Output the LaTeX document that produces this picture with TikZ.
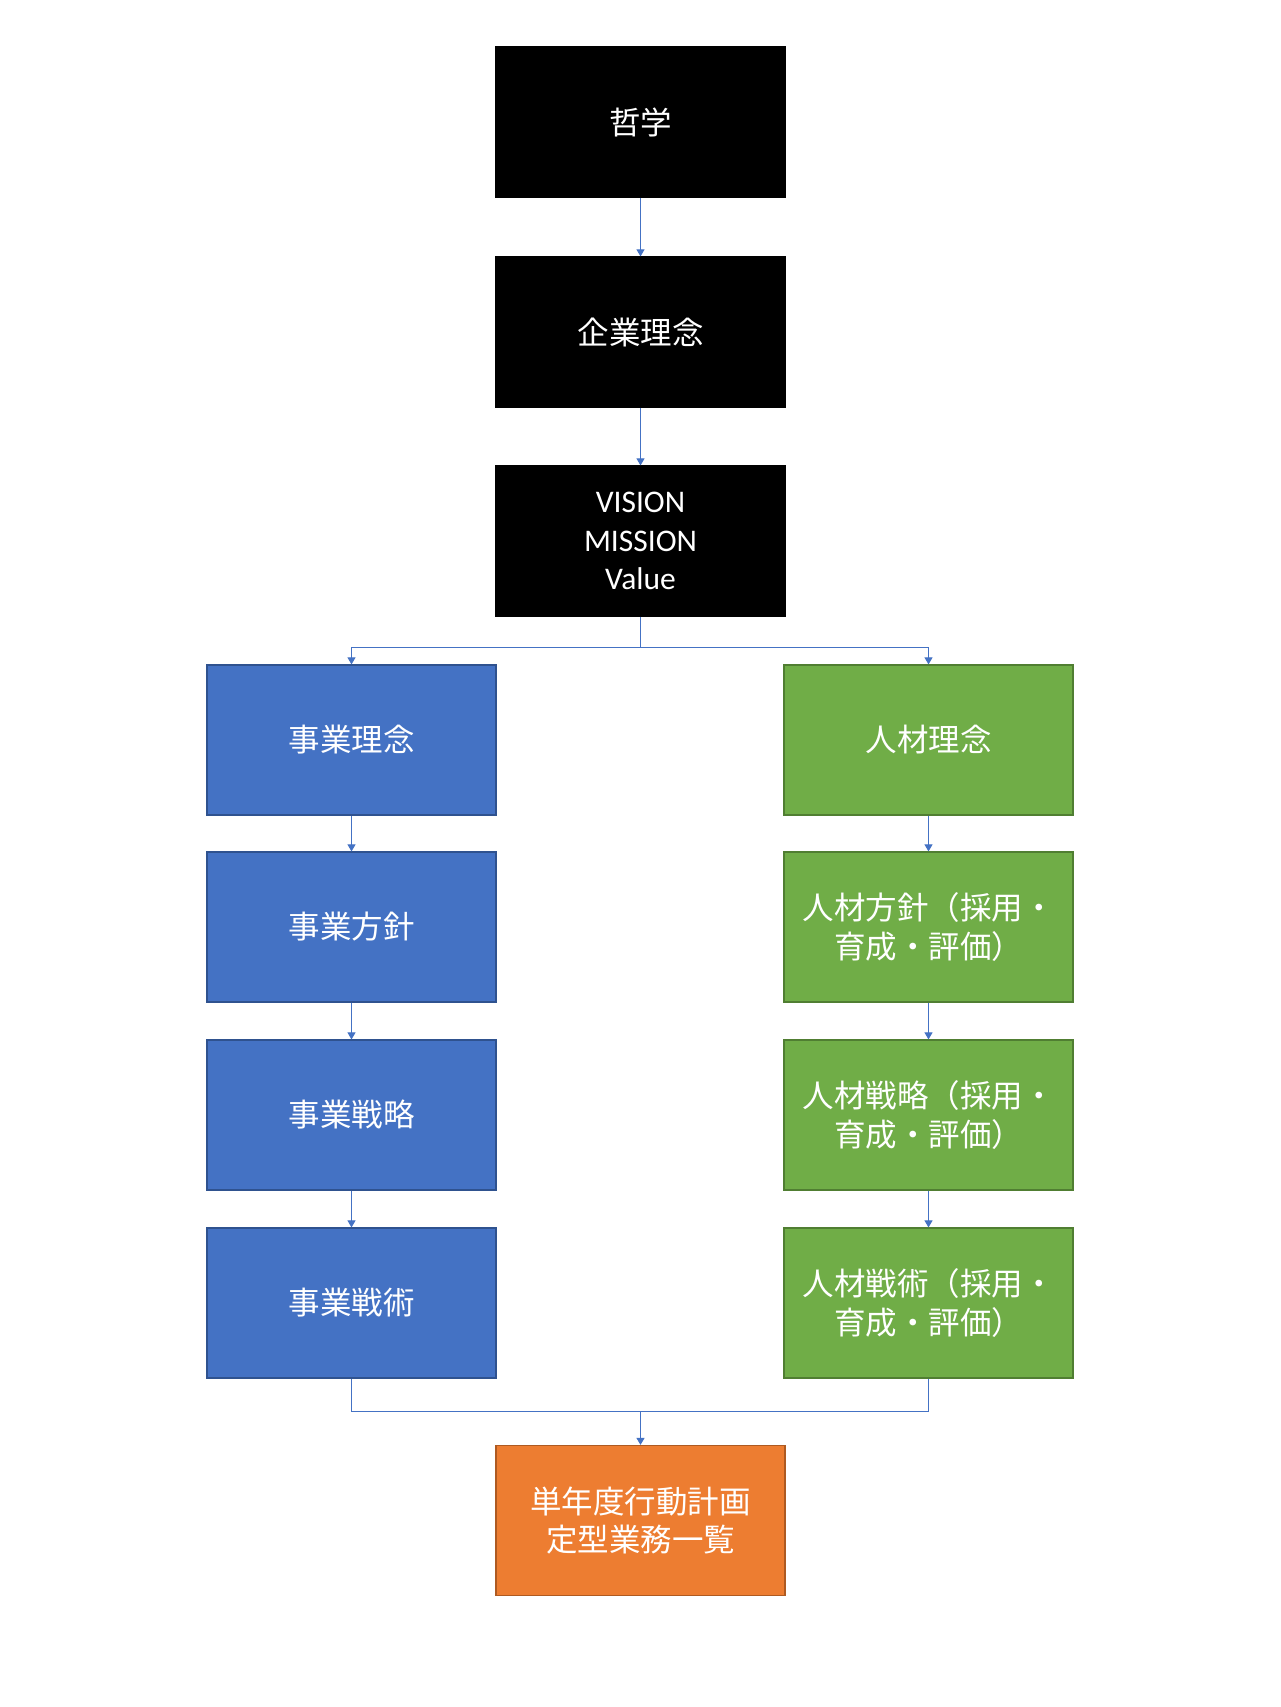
\documentclass[tikz,border=0pt]{standalone}
\usepackage{fontspec}
\setmainfont{Carlito}
\newfontfamily\cjk{Noto Sans CJK JP}
\usetikzlibrary{arrows.meta}
\definecolor{bluefill}{HTML}{4472C4}
\definecolor{blueedge}{HTML}{2F528F}
\definecolor{greenfill}{HTML}{70AD47}
\definecolor{greenedge}{HTML}{507E32}
\definecolor{orangefill}{HTML}{ED7D31}
\definecolor{orangeedge}{HTML}{AE5A21}
\definecolor{conn}{HTML}{4472C4}
\begin{document}
\begin{tikzpicture}[x=1pt,y=-1pt,
  box/.style={rectangle, minimum width=289pt, minimum height=150pt, inner sep=0pt,
    text=white, align=center, line width=1.2pt,
    font=\fontsize{31.5}{38.5}\selectfont},
  blackbox/.style={box, fill=black, draw=black},
  bluebox/.style={box, fill=bluefill, draw=blueedge},
  greenbox/.style={box, fill=greenfill, draw=greenedge},
  orangebox/.style={box, fill=orangefill, draw=orangeedge},
  link/.style={draw=conn, line width=1pt},
  arr/.style={link, -{Triangle[width=8pt,length=7pt]}}
]
\useasboundingbox (0,0) rectangle (1280,1707);
\fill[white] (0,0) rectangle (1280,1707);

\node[blackbox] (phil) at (640.5,122) {\cjk 哲学};
\node[blackbox] (corp) at (640.5,332) {\cjk 企業理念};
\node[blackbox] (vmv) at (640.5,541) {VISION\\MISSION\\Value};

\node[bluebox] (b1) at (351.5,740) {\cjk 事業理念};
\node[bluebox] (b2) at (351.5,927) {\cjk 事業方針};
\node[bluebox] (b3) at (351.5,1115) {\cjk 事業戦略};
\node[bluebox] (b4) at (351.5,1303) {\cjk 事業戦術};

\node[greenbox] (g1) at (928.5,740) {\cjk 人材理念};
\node[greenbox] (g2) at (928.5,927) {\cjk 人材方針（採用・\\\cjk 育成・評価）};
\node[greenbox] (g3) at (928.5,1115) {\cjk 人材戦略（採用・\\\cjk 育成・評価）};
\node[greenbox] (g4) at (928.5,1303) {\cjk 人材戦術（採用・\\\cjk 育成・評価）};

\node[orangebox] (plan) at (640.5,1520.5) {\cjk 単年度行動計画\\\cjk 定型業務一覧};

\coordinate (split) at (640.5,647);
\coordinate (join) at (640.5,1411);

\draw[arr] (phil.south) -- (corp.north);
\draw[arr] (corp.south) -- (vmv.north);
\draw[link] (vmv.south) -- (split);
\draw[arr] (split) -| (b1.north);
\draw[arr] (split) -| (g1.north);

\draw[arr] (b1.south) -- (b2.north);
\draw[arr] (b2.south) -- (b3.north);
\draw[arr] (b3.south) -- (b4.north);
\draw[arr] (g1.south) -- (g2.north);
\draw[arr] (g2.south) -- (g3.north);
\draw[arr] (g3.south) -- (g4.north);

\draw[link] (b4.south) |- (join);
\draw[link] (g4.south) |- (join);
\draw[arr] (join) -- (plan.north);
\end{tikzpicture}
\end{document}
